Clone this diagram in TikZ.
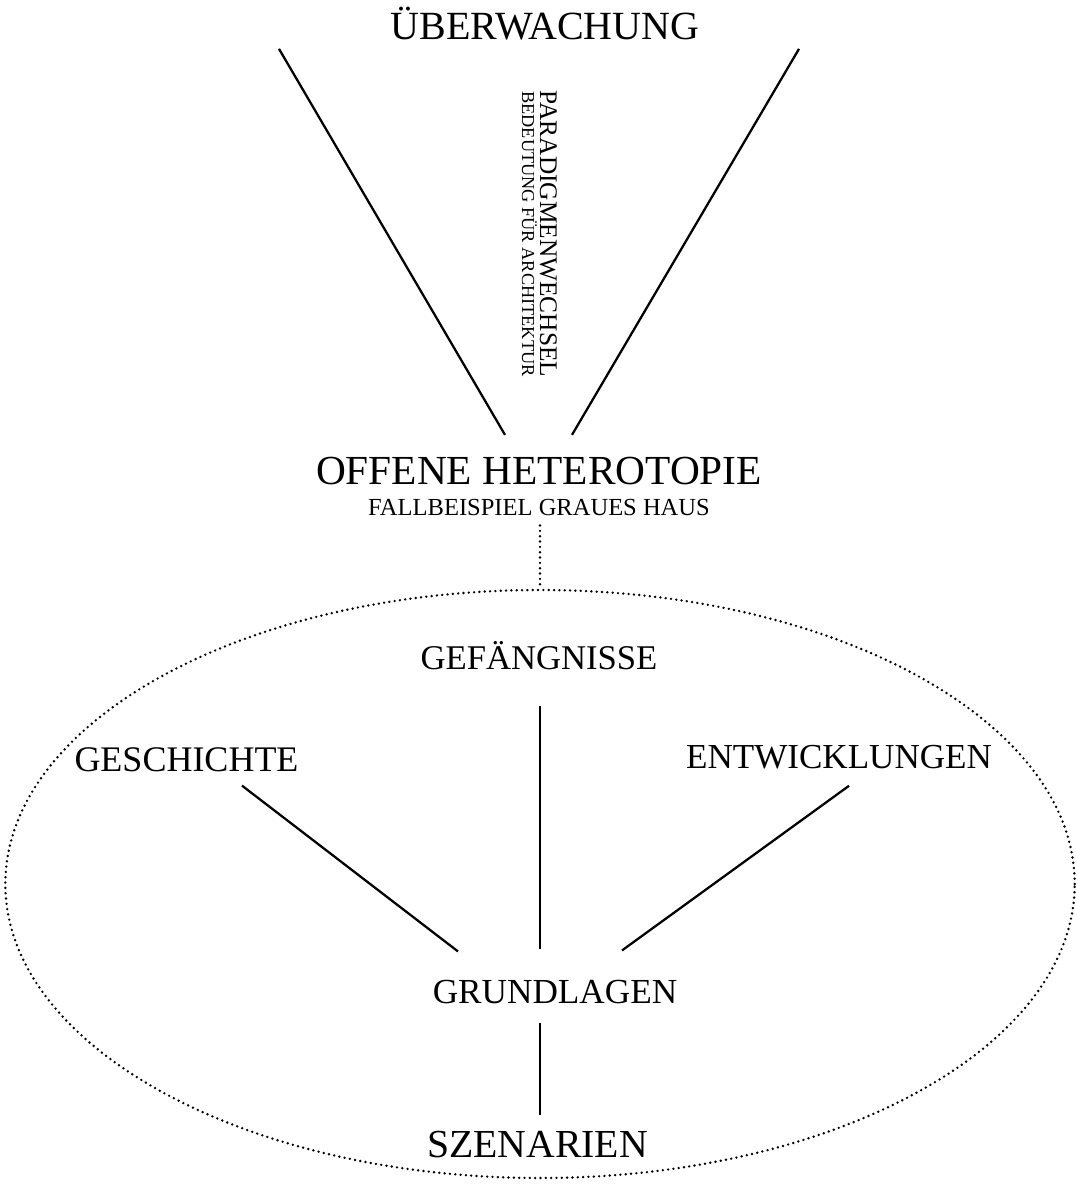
\documentclass[tikz,border=0pt]{standalone}
\usepackage{fontspec}
\setmainfont{Liberation Serif}
\usetikzlibrary{calc,shapes.geometric}

\tikzset{
	link/.style={line width=1.7pt},
	dots/.style={line width=2pt, dash pattern=on 0pt off 4pt, line cap=round},
}

\begin{document}
\begin{tikzpicture}[x=0.75pt, y=-0.75pt, every node/.style={inner sep=0pt, anchor=base}]
	\useasboundingbox (0,0) rectangle (1077,1188);
	% oben
	\node[font=\fontsize{30}{36}\selectfont] (ueb) at (545,40) {ÜBERWACHUNG};
	\node[font=\fontsize{19}{23}\selectfont, rotate=-90] (para) at (540,234) {PARADIGMENWECHSEL};
	\node[font=\fontsize{13.7}{16}\selectfont, rotate=-90] (bed) at (522,234) {BEDEUTUNG FÜR ARCHITEKTUR};
	\node[font=\fontsize{31}{37}\selectfont] (off) at (539,484) {OFFENE HETEROTOPIE};
	\node[font=\fontsize{18.4}{22}\selectfont] (fall) at (539,515) {FALLBEISPIEL GRAUES HAUS};
	\draw[link] ($(ueb.south)+(-266,8)$) -- ($(off.north)+(-34,-21.5)$);
	\draw[link] ($(ueb.south)+(254,8)$) -- ($(off.north)+(33,-21.5)$);
	% ellipse
	\node[draw, dots, ellipse, anchor=center, minimum width=802pt, minimum height=441pt] (ring) at (540,884) {};
	\draw[dots] ($(fall.south)+(1,10)$) -- (ring.north);
	\node[font=\fontsize{26}{31}\selectfont] (gef) at (539,669) {GEFÄNGNISSE};
	\node[font=\fontsize{27}{32}\selectfont] (gesch) at (186.5,771) {GESCHICHTE};
	\node[font=\fontsize{26.3}{32}\selectfont] (entw) at (839,768) {ENTWICKLUNGEN};
	\node[font=\fontsize{26.4}{32}\selectfont] (grund) at (555,1003) {GRUNDLAGEN};
	\node[font=\fontsize{29.8}{36}\selectfont] (szen) at (537.5,1157) {SZENARIEN};
	\draw[link] ($(gef.south)+(1,36)$) -- ($(grund.north)+(-15,-30)$);
	\draw[link] ($(gesch.south)+(55.5,14)$) -- ($(grund.north)+(-97,-28)$);
	\draw[link] ($(entw.south)+(10,17)$) -- ($(grund.north)+(67,-29)$);
	\draw[link] ($(grund.south)+(-15,19)$) -- ($(szen.north)+(2.5,-15.7)$);
\end{tikzpicture}
\end{document}
